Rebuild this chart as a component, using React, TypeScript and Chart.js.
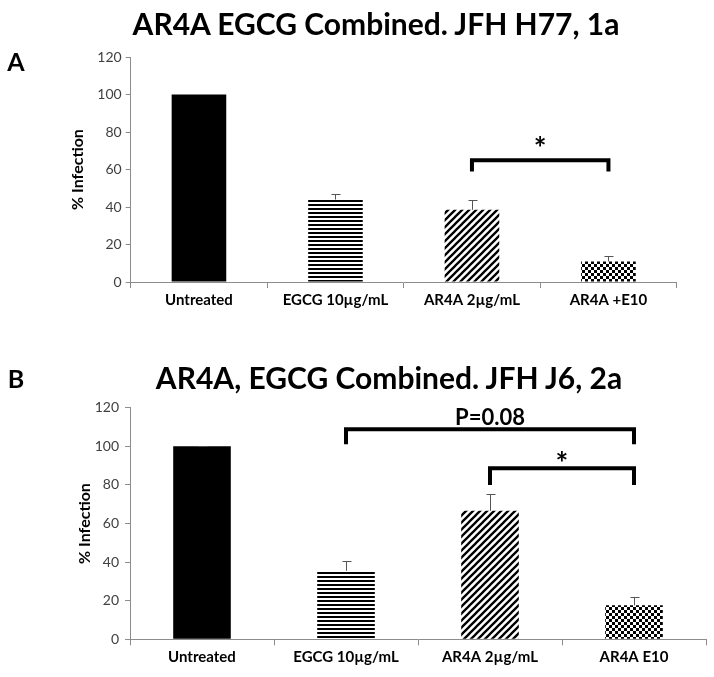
import React, { useEffect, useRef } from "react";
import { Chart, registerables } from "chart.js";

Chart.register(...registerables);

const categoriesA = ["Untreated", "EGCG 10µg/mL", "AR4A 2µg/mL", "AR4A +E10"];
const valuesA = [100, 44, 38.5, 11];
const errorsA = [0, 3, 5.5, 2.7];

const categoriesB = ["Untreated", "EGCG 10µg/mL", "AR4A 2µg/mL", "AR4A E10"];
const valuesB = [100, 35.5, 66.6, 17.6];
const errorsB = [0.3, 5, 8.5, 4.2];

const yMin = 0;
const yMax = 120;
const yStep = 20;

// significance brackets in data units: category indices and % values
const bracketsA = [{ from: 2, to: 3, top: 65, leg: 59, label: "*", labelAt: 74.8, size: 30 }];
const bracketsB = [
  { from: 1, to: 3, top: 108.8, leg: 101, label: "P=0.08", labelAt: 115.3, size: 22 },
  { from: 2, to: 3, top: 88.6, leg: 80, label: "*", labelAt: 94.5, size: 30 },
];

const FONT = "Lato, 'Open Sans', sans-serif";

function makePatterns() {
  const mk = (w: number, h: number, draw: (c: CanvasRenderingContext2D) => void) => {
    const cv = document.createElement("canvas");
    cv.width = w;
    cv.height = h;
    const c = cv.getContext("2d")!;
    c.fillStyle = "#fff";
    c.fillRect(0, 0, w, h);
    draw(c);
    return c.createPattern(cv, "repeat")!;
  };
  const horiz = mk(4, 4, (c) => {
    c.fillStyle = "#000";
    c.fillRect(0, 0, 4, 2);
  });
  const p = 7;
  const diag = mk(p, p, (c) => {
    c.strokeStyle = "#000";
    c.lineWidth = 2.3;
    c.beginPath();
    c.moveTo(-1, p + 1);
    c.lineTo(p + 1, -1);
    c.moveTo(-2, 2);
    c.lineTo(2, -2);
    c.moveTo(p - 2, p + 2);
    c.lineTo(p + 2, p - 2);
    c.stroke();
  });
  const checker = mk(6, 6, (c) => {
    c.fillStyle = "#000";
    c.fillRect(0, 0, 3, 3);
    c.fillRect(3, 3, 3, 3);
  });
  return ["#000000", horiz, diag, checker];
}

const annotate = {
  id: "annotate",
  afterDatasetsDraw(chart: any, _args: any, opts: any) {
    const { ctx } = chart;
    const x = chart.scales.x;
    const y = chart.scales.y;
    const meta = chart.getDatasetMeta(0);
    ctx.save();
    ctx.strokeStyle = "#555";
    ctx.lineWidth = 1;
    opts.errors.forEach((e: number, i: number) => {
      if (!e) return;
      const bar = meta.data[i];
      const cx = Math.round(bar.x) + 0.5;
      const top = y.getPixelForValue(opts.values[i]);
      const et = Math.round(y.getPixelForValue(opts.values[i] + e)) + 0.5;
      ctx.beginPath();
      ctx.moveTo(cx, top);
      ctx.lineTo(cx, et);
      ctx.moveTo(cx - 4, et);
      ctx.lineTo(cx + 5, et);
      ctx.stroke();
    });
    opts.brackets.forEach((b: any) => {
      const x1 = x.getPixelForValue(b.from);
      const x2 = x.getPixelForValue(b.to);
      const yt = y.getPixelForValue(b.top);
      const yl = y.getPixelForValue(b.leg);
      ctx.strokeStyle = "#000";
      ctx.lineWidth = 4;
      ctx.lineJoin = "miter";
      ctx.lineCap = "butt";
      ctx.beginPath();
      ctx.moveTo(x1, yl);
      ctx.lineTo(x1, yt);
      ctx.lineTo(x2, yt);
      ctx.lineTo(x2, yl);
      ctx.stroke();
      ctx.fillStyle = "#000";
      ctx.font = `bold ${b.size}px ${FONT}`;
      ctx.textAlign = "center";
      ctx.textBaseline = "alphabetic";
      const m = ctx.measureText(b.label);
      const cy = y.getPixelForValue(b.labelAt);
      const base = cy + (m.actualBoundingBoxAscent - m.actualBoundingBoxDescent) / 2;
      ctx.fillText(b.label, (x1 + x2) / 2, base);
    });
    ctx.restore();
  },
};

function buildConfig(
  labels: string[],
  values: number[],
  errors: number[],
  brackets: any[],
  padding: any,
  titlePad: number,
  tickPad: number
): any {
  const patterns = makePatterns();
  return {
    type: "bar",
    data: {
      labels,
      datasets: [
        {
          data: values,
          backgroundColor: patterns,
          borderWidth: 0,
          categoryPercentage: 1,
          barPercentage: 0.4,
        },
      ],
    },
    plugins: [annotate],
    options: {
      animation: false,
      responsive: false,
      maintainAspectRatio: false,
      layout: { padding },
      plugins: {
        legend: { display: false },
        tooltip: { enabled: false },
        annotate: { values, errors, brackets },
      },
      scales: {
        x: {
          afterFit: (s: any) => {
            s.height = 30;
          },
          grid: {
            display: true,
            drawOnChartArea: false,
            offset: true,
            tickLength: 6,
            color: "#8c8c8c",
          },
          border: { color: "#8c8c8c", width: 1 },
          ticks: {
            color: "#000",
            font: { family: FONT, size: 15, weight: "bold" },
            padding: 3,
            maxRotation: 0,
            autoSkip: false,
          },
        },
        y: {
          min: yMin,
          max: yMax,
          afterFit: (s: any) => {
            s.width = 70;
          },
          grid: {
            display: true,
            drawOnChartArea: false,
            tickLength: 5,
            color: "#8c8c8c",
          },
          border: { color: "#8c8c8c", width: 1 },
          ticks: {
            stepSize: yStep,
            color: "#404040",
            font: { family: FONT, size: 14 },
            padding: tickPad,
          },
          title: {
            display: true,
            text: "% Infection",
            color: "#000",
            font: { family: FONT, size: 16, weight: "bold" },
            padding: { top: titlePad, bottom: 0 },
          },
        },
      },
    },
  };
}

function ChartCanvas(props: { config: () => any; top: number; height: number }) {
  const ref = useRef<HTMLCanvasElement>(null);
  useEffect(() => {
    const chart = new Chart(ref.current!, props.config());
    return () => chart.destroy();
  }, []);
  return (
    <canvas
      ref={ref}
      width={714}
      height={props.height}
      style={{ position: "absolute", left: 0, top: props.top, width: 714, height: props.height }}
    />
  );
}

const titleStyle = (cx: number, cy: number, size: number): React.CSSProperties => ({
  position: "absolute",
  left: cx,
  top: cy,
  transform: "translate(-50%, -50%)",
  fontFamily: FONT,
  fontWeight: 700,
  fontSize: size,
  lineHeight: 1,
  whiteSpace: "nowrap",
  color: "#000",
});

export default function App() {
  return (
    <div
      style={{
        position: "absolute",
        left: 0,
        top: 0,
        width: 714,
        height: 677,
        background: "#fff",
        overflow: "hidden",
      }}
    >
      <ChartCanvas
        top={0}
        height={330}
        config={() =>
          buildConfig(categoriesA, valuesA, errorsA, bracketsA, { left: 60.7, right: 37.3, top: 57, bottom: 18 }, 8, 4)
        }
      />
      <ChartCanvas
        top={340}
        height={337}
        config={() =>
          buildConfig(categoriesB, valuesB, errorsB, bracketsB, { left: 60, right: 8, top: 67.7, bottom: 7.7 }, 15, 6)
        }
      />
      <div style={titleStyle(376, 23, 30)}>AR4A EGCG Combined. JFH H77, 1a</div>
      <div style={titleStyle(16, 61, 25)}>A</div>
      <div style={titleStyle(389, 377, 30)}>AR4A, EGCG Combined. JFH J6, 2a</div>
      <div style={titleStyle(16, 378, 25)}>B</div>
    </div>
  );
}
